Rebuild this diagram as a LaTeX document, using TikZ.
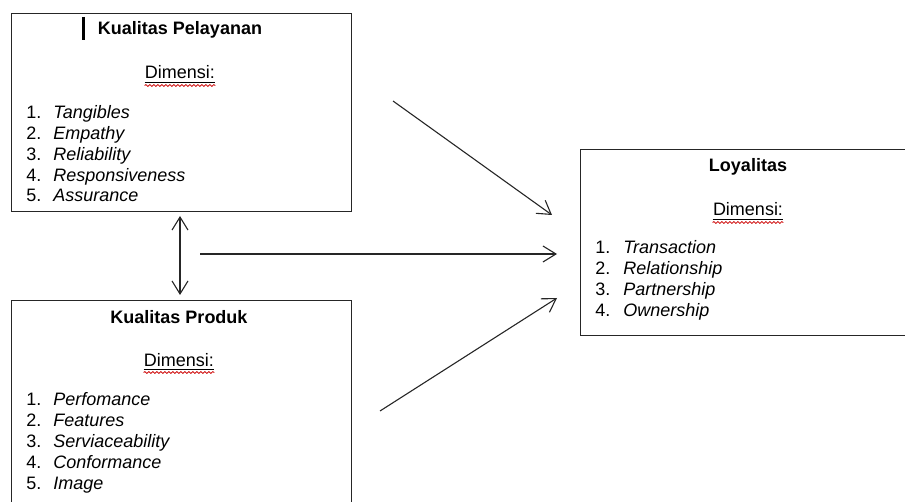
\documentclass[tikz,border=0pt]{standalone}
\usepackage{fontspec}
\setmainfont{Liberation Sans}
\usetikzlibrary{calc,arrows.meta,positioning,decorations.pathmorphing}

\begin{document}
\begin{tikzpicture}[x=0.5pt,y=-0.5pt,
    kotak/.style={draw=black!85,line width=0.65pt,inner sep=0pt,anchor=north west},
    judul/.style={font=\bfseries\fontsize{9}{10.4}\selectfont,inner sep=0pt,anchor=base},
    teks/.style={font=\fontsize{9}{10.4}\selectfont,inner sep=0pt,anchor=base},
    butir/.style={font=\fontsize{9}{10.4}\selectfont,inner sep=0pt,anchor=base west},
    panah/.style={draw=black!85,line width=0.55pt,-{Straight Barb[length=6.5pt,width=8pt]}},
    salah/.style={red!80!black,line width=0.4pt,decorate,decoration={snake,amplitude=0.45pt,segment length=2pt}}]
    \useasboundingbox (0,0) rectangle (905,502);
    % kotak-kotak
    \node[kotak,minimum width=170pt,minimum height=99pt] (pel) at (11,13) {};
    \node[kotak,minimum width=170pt,minimum height=105pt] (pro) at (11,300) {};
    \node[kotak,minimum width=168pt,minimum height=93pt] (loy) at (580,149) {};
    \draw[line width=1.5pt] (83,17) -- (83,40);
    % judul dan dimensi
    \node[judul] (pelT) at (180,35) {Kualitas Pelayanan};
    \node[judul] (proT) at (179,323) {Kualitas Produk};
    \node[judul] (loyT) at (748,172) {Loyalitas};
    \node[teks] (pelD) at (180,79) {Dimensi:};
    \node[teks] (proD) at (179,366) {Dimensi:};
    \node[teks] (loyD) at (748,216) {Dimensi:};
    \foreach \d in {pelD,proD,loyD}{
      \draw[line width=0.45pt] ($(\d.base west)+(0,3.5)$) -- ($(\d.base east)+(0,3.5)$);
      \draw[salah] ($(\d.base west)+(0,6.5)$) -- ($(\d.base east)+(0,6.5)$);
    }
    % daftar
    \foreach \t [count=\i] in {Tangibles,Empathy,Reliability,Responsiveness,Assurance}
      \node[butir] (pel\i) at (26,{119+(\i-1)*20.75}) {\makebox[13.5pt][l]{\i.}\textit{\t}};
    \foreach \t [count=\i] in {Perfomance,Features,Serviaceability,Conformance,Image}
      \node[butir] (pro\i) at (26,{405+(\i-1)*21}) {\makebox[13.5pt][l]{\i.}\textit{\t}};
    \foreach \t [count=\i] in {Transaction,Relationship,Partnership,Ownership}
      \node[butir] (loy\i) at (595,{254+(\i-1)*20.75}) {\makebox[14pt][l]{\i.}\textit{\t}};
    % panah
    \coordinate (a1) at (393,101);
    \coordinate (b1) at (552,215);
    \coordinate (a2) at (200,254);
    \coordinate (b2) at (557,254);
    \coordinate (a3) at (380,411);
    \coordinate (b3) at (557,298);
    \coordinate (c1) at (180,216);
    \coordinate (c2) at (180,295);
    \draw[panah] (a1) -- (b1);
    \draw[panah] (a2) -- (b2);
    \draw[panah] (a3) -- (b3);
    \draw[panah,{Straight Barb[length=6.5pt,width=8pt]}-{Straight Barb[length=6.5pt,width=8pt]}] (c1) -- (c2);
\end{tikzpicture}
\end{document}
